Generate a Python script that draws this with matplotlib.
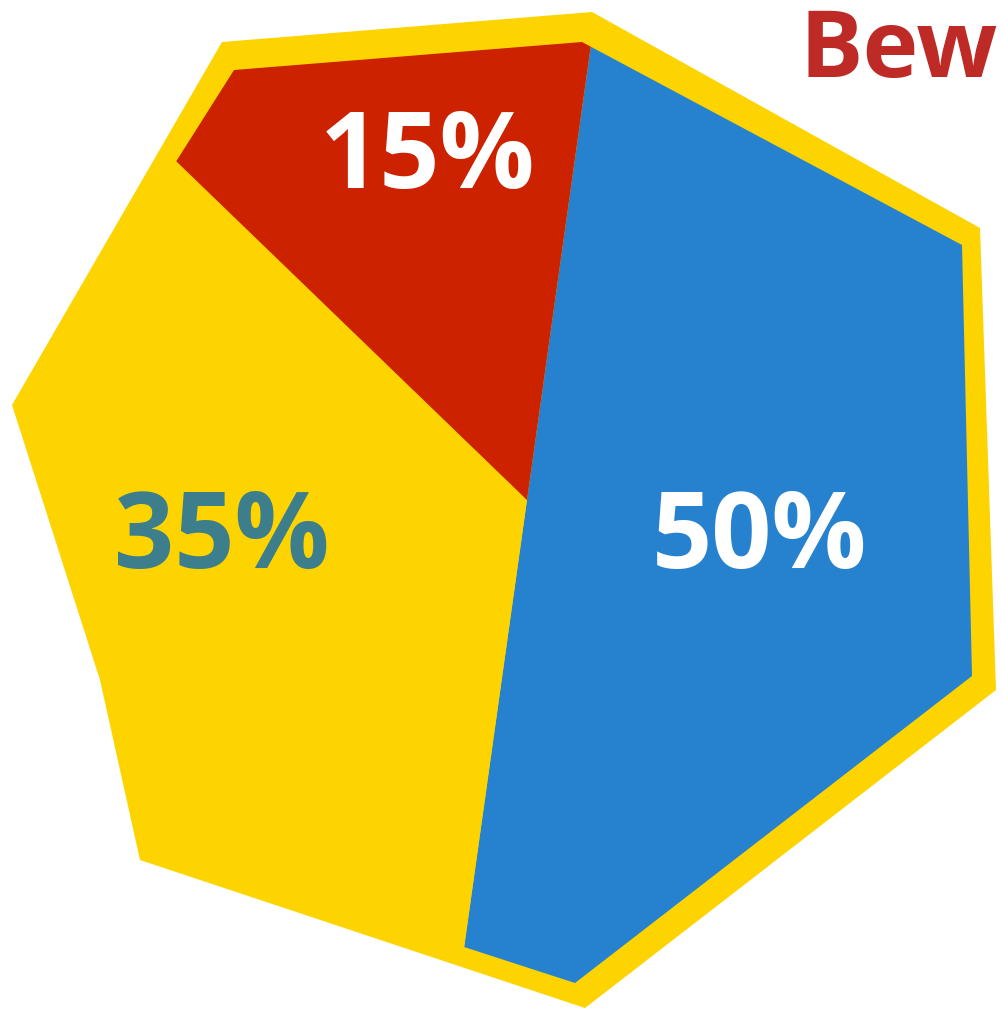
import matplotlib
matplotlib.use("Agg")
import matplotlib.pyplot as plt
from matplotlib.patches import Polygon

# data
categories = ["Rot", "Blau", "Gelb"]
values = [15, 50, 35]
colors = ["#CC2200", "#2681CF", "#FDD300"]
label_colors = ["#FFFFFF", "#FFFFFF", "#3C7E8C"]
title = "Bew"

W, H = 1002, 1015
fig = plt.figure(figsize=(W / 100, H / 100), dpi=100)
ax = fig.add_axes([0, 0, 1, 1])
ax.set_xlim(0, W)
ax.set_ylim(0, H)

def px(pts):
    return [(x, H - y) for x, y in pts]

outer = px([(222, 42), (592, 12), (980, 228), (996, 690), (585, 1008),
            (140, 860), (100, 680), (12, 405)])
inner = px([(234, 70), (582, 42), (962, 245), (972, 676), (575, 983),
            (150, 845), (110, 680), (22, 405)])

ax.add_patch(Polygon(outer, closed=True, facecolor="#FDD300",
                     edgecolor="none", zorder=1))
clip = Polygon(inner, closed=True, facecolor="none", edgecolor="none", zorder=0)
ax.add_patch(clip)

# order: blue first clockwise from top, then yellow, then red
order = [1, 2, 0]
wedges, _ = ax.pie([values[i] for i in order],
                   colors=[colors[i] for i in order],
                   startangle=82, counterclock=False,
                   center=(527, H - 500), radius=1400, frame=True,
                   wedgeprops=dict(linewidth=0, zorder=2))
for w in wedges:
    w.set_clip_on(True)
    w.set_clip_path(clip)

ax.set_xlim(0, W)
ax.set_ylim(0, H)
ax.set_aspect("auto")
ax.axis("off")

font = ["Open Sans", "DejaVu Sans"]
label_pos = {0: (428, 160), 1: (760, 540), 2: (222, 540)}
for i, v in enumerate(values):
    x, y = label_pos[i]
    ax.text(x, H - y, f"{v}%", color=label_colors[i], fontsize=76,
            fontweight="bold", family=font, ha="center", va="center", zorder=5)

ax.text(998, H - 52, title, color="#BE2B27", fontsize=68, fontweight="bold",
        family=font, ha="right", va="center", zorder=5)

fig.savefig("out.png", dpi=100, facecolor="white")
